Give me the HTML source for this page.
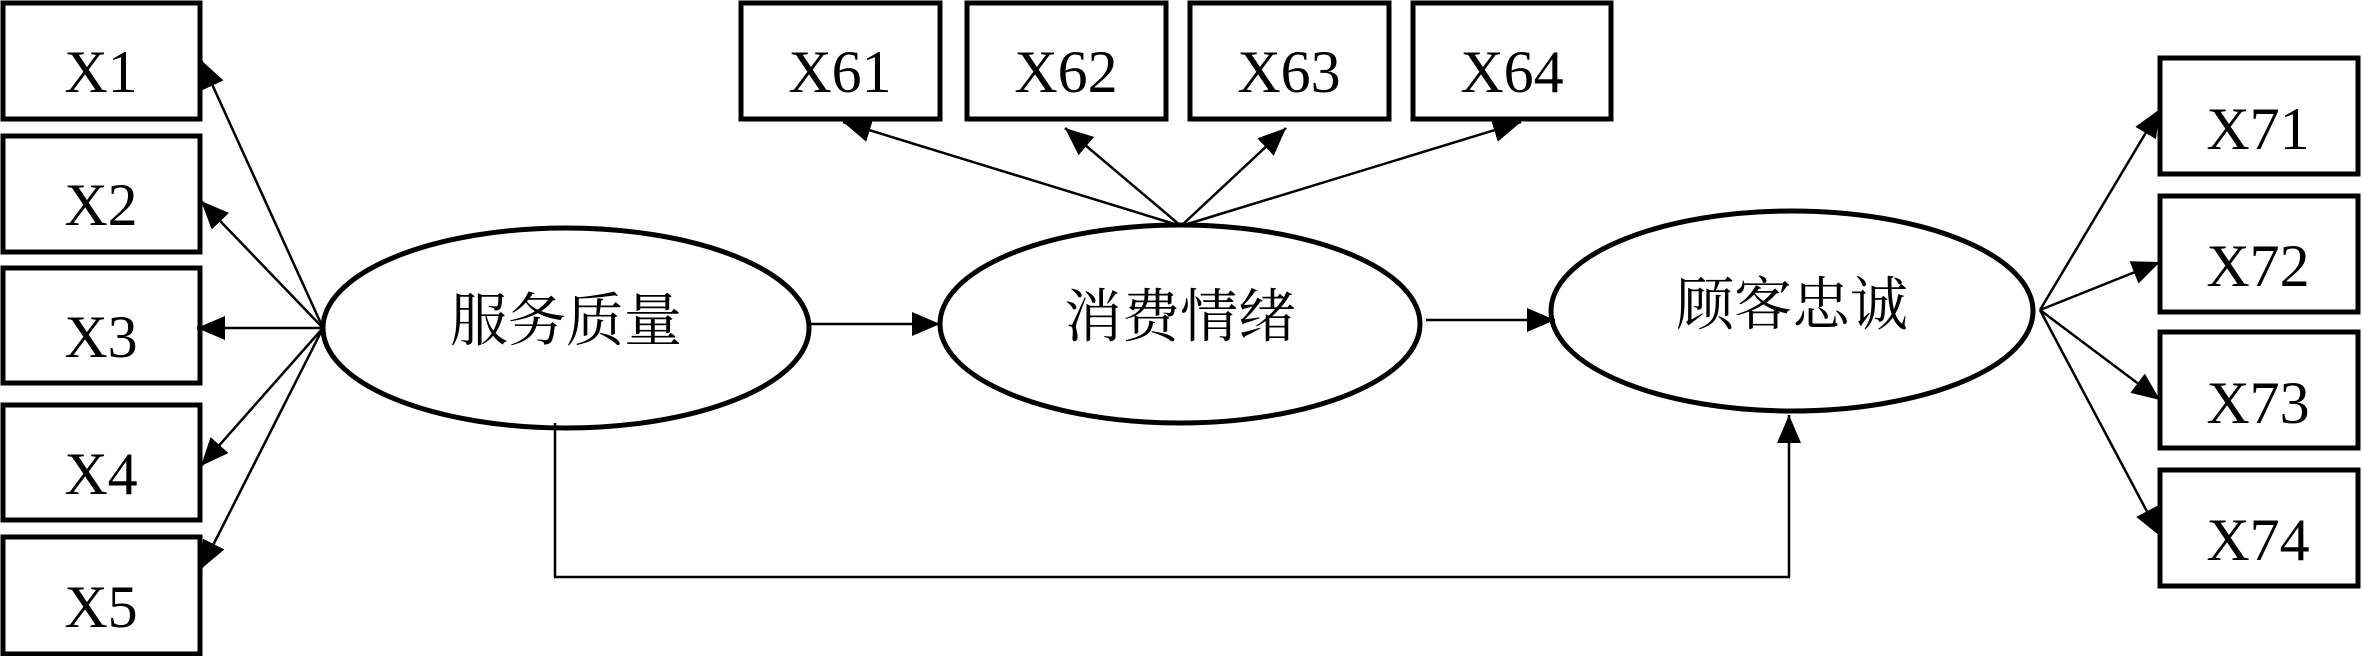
<!DOCTYPE html>
<html><head><meta charset="utf-8"><style>
html,body{margin:0;padding:0;background:#fff;}
svg{display:block;}
.b{fill:#fff;stroke:#000;stroke-width:5;}
.e{fill:#fff;stroke:#000;stroke-width:5;}
.l{stroke:#000;stroke-width:2.5;fill:none;}
.t{font-family:"Liberation Serif",serif;font-size:60px;text-anchor:middle;}
.c{font-family:"Liberation Serif","Noto Serif CJK SC",serif;font-size:58px;text-anchor:middle;dominant-baseline:central;}
</style></head><body>
<svg width="2362" height="656" viewBox="0 0 2362 656" xmlns="http://www.w3.org/2000/svg">
<defs>
<marker id="a" markerUnits="userSpaceOnUse" markerWidth="30" markerHeight="24" refX="28" refY="12" orient="auto">
<path d="M0,0 L28,12 L0,24 z" fill="#000"/>
</marker>
</defs>
<!-- left boxes -->
<rect class="b" x="3" y="3" width="197" height="116"/>
<rect class="b" x="3" y="136" width="197" height="116"/>
<rect class="b" x="3" y="268" width="197" height="115"/>
<rect class="b" x="3" y="405" width="197" height="115"/>
<rect class="b" x="3" y="537" width="197" height="117"/>
<text class="t" x="101" y="92">X1</text>
<text class="t" x="101" y="225">X2</text>
<text class="t" x="101" y="357">X3</text>
<text class="t" x="101" y="494">X4</text>
<text class="t" x="101" y="627">X5</text>
<!-- top boxes -->
<rect class="b" x="741" y="3" width="199" height="116"/>
<rect class="b" x="967" y="3" width="199" height="116"/>
<rect class="b" x="1190" y="3" width="199" height="116"/>
<rect class="b" x="1413" y="3" width="198" height="116"/>
<text class="t" x="840" y="92">X61</text>
<text class="t" x="1066" y="92">X62</text>
<text class="t" x="1289" y="92">X63</text>
<text class="t" x="1512" y="92">X64</text>
<!-- right boxes -->
<rect class="b" x="2160" y="58" width="198" height="116"/>
<rect class="b" x="2160" y="196" width="198" height="116"/>
<rect class="b" x="2160" y="332" width="198" height="116"/>
<rect class="b" x="2160" y="470" width="198" height="116"/>
<text class="t" x="2258" y="149">X71</text>
<text class="t" x="2258" y="286">X72</text>
<text class="t" x="2258" y="423">X73</text>
<text class="t" x="2258" y="560">X74</text>
<!-- ellipses -->
<ellipse class="e" cx="566" cy="328" rx="243" ry="100"/>
<ellipse class="e" cx="1180" cy="324" rx="240" ry="99"/>
<ellipse class="e" cx="1792" cy="311" rx="241" ry="100"/>
<text class="c" x="566" y="321">服务质量</text>
<text class="c" x="1180" y="317">消费情绪</text>
<text class="c" x="1792" y="305">顾客忠诚</text>
<!-- left connectors -->
<line class="l" x1="323" y1="328" x2="201" y2="60" marker-end="url(#a)"/>
<line class="l" x1="323" y1="328" x2="201" y2="201" marker-end="url(#a)"/>
<line class="l" x1="323" y1="328" x2="197" y2="328" marker-end="url(#a)"/>
<line class="l" x1="323" y1="328" x2="201" y2="466" marker-end="url(#a)"/>
<line class="l" x1="323" y1="328" x2="201" y2="569" marker-end="url(#a)"/>
<!-- structural -->
<line class="l" x1="809" y1="324" x2="940" y2="324" marker-end="url(#a)"/>
<line class="l" x1="1426" y1="320" x2="1555" y2="320" marker-end="url(#a)"/>
<polyline class="l" points="555,423 555,577 1789,577 1789,415" marker-end="url(#a)"/>
<!-- top connectors -->
<line class="l" x1="1181" y1="226" x2="843" y2="122" marker-end="url(#a)"/>
<line class="l" x1="1181" y1="226" x2="1065" y2="128" marker-end="url(#a)"/>
<line class="l" x1="1181" y1="226" x2="1286" y2="128" marker-end="url(#a)"/>
<line class="l" x1="1181" y1="226" x2="1521" y2="122" marker-end="url(#a)"/>
<!-- right connectors -->
<line class="l" x1="2040" y1="310" x2="2160" y2="109" marker-end="url(#a)"/>
<line class="l" x1="2040" y1="310" x2="2160" y2="262" marker-end="url(#a)"/>
<line class="l" x1="2040" y1="310" x2="2160" y2="400" marker-end="url(#a)"/>
<line class="l" x1="2040" y1="310" x2="2160" y2="536" marker-end="url(#a)"/>
</svg>
</body></html>
